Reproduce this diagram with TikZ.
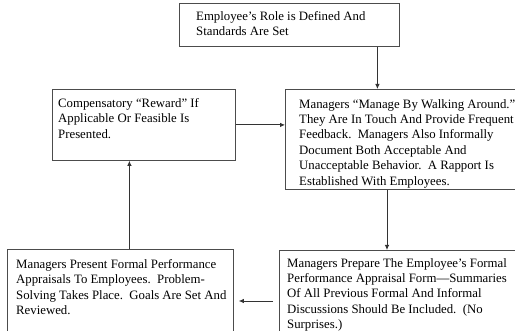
\documentclass[tikz,border=0pt]{standalone}
\usepackage{fontspec}
\setmainfont{Liberation Serif}
\usetikzlibrary{arrows.meta}
\begin{document}
\begin{tikzpicture}[x=1pt,y=-1pt,
  box/.style={draw=black!70, line width=0.8pt, rectangle, anchor=north west, inner sep=0pt},
  txt/.style={anchor=north west, inner sep=0pt, align=left, font=\fontsize{12.8}{15.4}\selectfont},
  arr/.style={draw=black!80, line width=0.8pt, -{Latex[length=5pt,width=4.5pt]}}]
\useasboundingbox (0,0) rectangle (515,331);
\fill[white] (0,0) rectangle (515,331);
% boxes
\node[box, minimum width=220pt, minimum height=43pt] (top) at (179,3) {};
\node[box, minimum width=183pt, minimum height=71pt] (lm) at (52,89) {};
\node[box, minimum width=240pt, minimum height=100pt] (rm) at (285,89) {};
\node[box, minimum width=226pt, minimum height=100pt] (bl) at (7,249) {};
\node[box, minimum width=240pt, minimum height=100pt] (br) at (279,250) {};
% texts
\node[txt] (ttop) at (196,11) {Employee’s Role is Defined And\\Standards Are Set};
\node[txt] (tlm) at (58,98) {Compensatory “Reward” If\\Applicable Or Feasible Is\\Presented.};
\node[txt] (trm) at (299,99) {Managers “Manage By Walking Around.”\\They Are In Touch And Provide Frequent\\Feedback.\ \ Managers Also Informally\\Document Both Acceptable And\\Unacceptable Behavior.\ \ A Rapport Is\\Established With Employees.};
\node[txt] (tbl) at (16,259) {Managers Present Formal Performance\\Appraisals To Employees.\ \ Problem-\\Solving Takes Place.\ \ Goals Are Set And\\Reviewed.};
\node[txt] (tbr) at (287,258) {Managers Prepare The Employee’s Formal\\Performance Appraisal Form—Summaries\\Of All Previous Formal And Informal\\Discussions Should Be Included.\ \ (No\\Surprises.)};
% connectors
\draw[arr] ([xshift=88pt]top.south) -- ([xshift=88pt]top.south |- rm.north);
\draw[arr] (lm.east) -- (lm.east -| rm.west);
\draw[arr] ([xshift=102pt]rm.north west |- rm.south) -- ([xshift=102pt]rm.north west |- br.north);
\draw[arr] ([shift={(-6pt,-51pt)}]br.north west) -- ([shift={(5pt,-52pt)}]bl.north east);
\draw[arr] ([xshift=9pt]bl.north) -- ([xshift=9pt]bl.north |- lm.south);
\end{tikzpicture}
\end{document}
